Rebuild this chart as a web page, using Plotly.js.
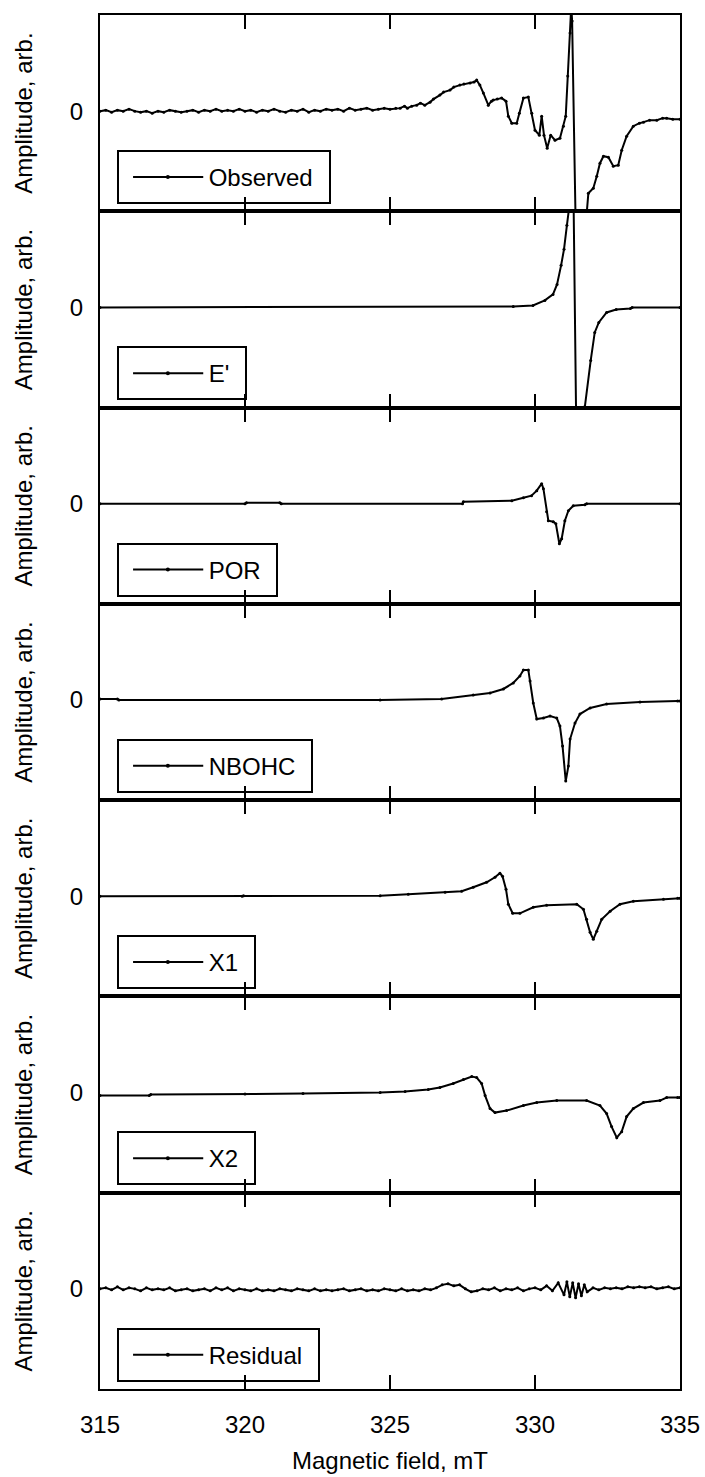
<!DOCTYPE html>
<html>
<head>
<meta charset="utf-8">
<script src="https://cdn.plot.ly/plotly-3.0.1.min.js"></script>
<style>html,body{margin:0;padding:0;background:#fff;}#chart{width:705px;height:1477px;}</style>
</head>
<body>
<div id="chart"></div>
<script>
// ---------------- DATA ----------------
const seriesNames = ["Observed", "E'", "POR", "NBOHC", "X1", "X2", "Residual"];
const xTickValues = [315, 320, 325, 330, 335];
const yTickValues = [0];
const yTickLabels = ["0"];

const field_observed = [315.0,315.2,315.4,315.6,315.8,316.0,316.2,316.4,316.6,316.8,
  317.0,317.2,317.4,317.6,317.8,318.0,318.2,318.4,318.6,318.8,
  319.0,319.2,319.4,319.6,319.8,320.0,320.2,320.4,320.6,320.8,
  321.0,321.2,321.4,321.6,321.8,322.0,322.2,322.4,322.6,322.8,
  323.0,323.2,323.4,323.6,323.8,324.0,324.2,324.4,324.6,
  324.8,325.0,325.2,325.35,325.5,325.6,325.75,325.92,326.05,326.2,326.38,326.5,326.72,326.85,
  327.07,327.2,327.41,327.55,327.76,327.9,327.99,328.1,328.22,328.39,328.5,328.56,328.7,328.85,
  329.0,329.08,329.2,329.37,329.46,329.6,329.77,329.89,330.0,330.15,330.23,330.31,330.42,330.54,
  330.69,330.86,330.98,331.06,331.13,331.21,331.25,331.28,331.4,331.5,331.65,331.78,331.84,
  332.01,332.13,332.24,332.36,332.53,332.7,332.87,332.99,333.16,333.39,333.6,333.74,333.95,
  334.2,334.4,334.54,334.75,335.0];
const amp_observed = [0.00,0.01,-0.01,0.01,0.00,0.02,0.00,-0.01,0.00,-0.02,
  0.00,-0.01,0.01,0.00,-0.01,0.00,0.01,-0.01,0.01,0.00,
  0.02,0.00,0.01,0.00,0.02,0.00,0.01,-0.01,0.01,0.00,
  0.02,0.00,-0.01,0.01,0.00,0.02,-0.01,0.01,0.00,0.02,
  0.01,0.02,0.00,0.03,0.01,0.02,0.03,0.01,0.02,
  0.03,0.02,0.03,0.03,0.05,0.03,0.05,0.06,0.08,0.06,0.09,0.12,0.16,0.19,
  0.21,0.24,0.26,0.27,0.28,0.29,0.31,0.26,0.18,0.06,0.10,0.11,0.12,0.13,
  0.10,-0.05,-0.12,-0.12,-0.02,0.13,0.14,-0.02,-0.19,-0.24,-0.05,-0.24,-0.37,-0.24,
  -0.29,-0.27,-0.15,-0.05,0.35,0.78,1.05,0.90,-1.10,-1.60,-1.30,-1.03,-0.82,
  -0.77,-0.65,-0.52,-0.45,-0.46,-0.55,-0.54,-0.39,-0.25,-0.15,-0.12,-0.11,-0.09,
  -0.09,-0.07,-0.07,-0.08,-0.08];

const field_eprime = [315, 329.25, 329.93, 330.34, 330.62, 330.76, 330.9, 331.0, 331.1, 331.17,
  331.3, 331.48, 331.6, 331.72, 331.92, 332.06, 332.2, 332.47, 332.8, 333.29, 333.35, 335];
const amp_eprime = [0, 0.01, 0.02, 0.07, 0.13, 0.23, 0.42, 0.58, 0.82, 0.98,
  1.8, -2.6, -1.6, -0.99, -0.53, -0.25, -0.15, -0.05, -0.02, -0.01, 0, 0];

const field_por = [315, 320.0, 320.05, 321.2, 321.25, 327.5, 327.53, 329.2, 329.6, 329.88, 330.06,
  330.23, 330.29, 330.4, 330.46, 330.63, 330.72, 330.84, 330.92, 331.03, 331.15, 331.32, 331.72, 331.78, 335];
const amp_por = [0, 0, 0.01, 0.01, 0, 0, 0.02, 0.03, 0.06, 0.08, 0.13,
  0.2, 0.15, -0.08, -0.17, -0.18, -0.2, -0.4, -0.35, -0.17, -0.07, -0.02, -0.01, 0, 0];

const field_nbohc = [315, 315.6, 315.65, 324.66, 326.78, 327.87, 328.45, 328.91, 329.25, 329.48, 329.6,
  329.77, 329.83, 329.94, 330.06, 330.29, 330.52, 330.75, 330.86, 330.95, 331.06, 331.15, 331.21,
  331.38, 331.55, 331.9, 332.47, 333.62, 334.92, 335];
const amp_nbohc = [0.01, 0.01, 0, 0, 0.01, 0.05, 0.07, 0.11, 0.17, 0.24, 0.3,
  0.3, 0.19, -0.03, -0.19, -0.18, -0.16, -0.18, -0.26, -0.46, -0.81, -0.66, -0.39,
  -0.23, -0.14, -0.08, -0.04, -0.02, -0.01, -0.01];

const field_x1 = [315, 319.9, 319.95, 324.66, 325.63, 326.9, 327.47, 327.87, 328.33, 328.62, 328.79,
  328.88, 329.0, 329.08, 329.23, 329.48, 329.94, 330.4, 331.44, 331.67, 331.78, 331.9, 332.01,
  332.13, 332.3, 332.59, 332.93, 333.39, 334.43, 334.92, 335];
const amp_x1 = [0, 0, 0.005, 0.005, 0.02, 0.04, 0.05, 0.09, 0.14, 0.19, 0.23,
  0.2, 0.07, -0.08, -0.17, -0.17, -0.11, -0.09, -0.08, -0.13, -0.23, -0.36, -0.43,
  -0.35, -0.23, -0.15, -0.08, -0.05, -0.03, -0.02, -0.02];

const field_x2 = [315, 316.7, 316.75, 320, 322, 324.66, 325.52, 326.32, 326.72, 327.18, 327.53, 327.82,
  327.99, 328.16, 328.28, 328.45, 328.62, 329.02, 329.6, 330.06, 330.75, 331.78, 332.24, 332.47,
  332.64, 332.82, 332.99, 333.16, 333.39, 333.74, 334.31, 334.54, 334.92, 335];
const amp_x2 = [-0.03, -0.03, -0.02, -0.015, -0.01, 0, 0.01, 0.03, 0.05, 0.09, 0.13, 0.16,
  0.15, 0.09, -0.03, -0.16, -0.2, -0.18, -0.13, -0.1, -0.08, -0.08, -0.13, -0.21,
  -0.34, -0.45, -0.39, -0.24, -0.16, -0.1, -0.08, -0.05, -0.05, -0.05];

const field_residual = [315.0,315.2,315.4,315.6,315.8,316.0,316.2,316.4,316.6,316.8,
  317.0,317.2,317.4,317.6,317.8,318.0,318.2,318.4,318.6,318.8,
  319.0,319.2,319.4,319.6,319.8,320.0,320.2,320.4,320.6,320.8,
  321.0,321.2,321.4,321.6,321.8,322.0,322.2,322.4,322.6,322.8,
  323.0,323.2,323.4,323.6,323.8,324.0,324.2,324.4,324.6,324.8,
  325.0,325.2,325.4,325.6,325.8,326.0,326.2,326.4,326.6,326.8,
  327.0,327.2,327.4,327.6,327.8,328.0,328.2,328.4,328.6,328.8,
  329.0,329.2,329.4,329.6,329.8,330.0,330.2,330.4,330.6,330.8,
  331.0,331.1,331.2,331.3,331.4,331.5,331.6,331.7,331.8,
  332.0,332.2,332.4,332.6,332.8,333.0,333.2,333.4,333.6,333.8,
  334.0,334.2,334.4,334.6,334.8,335.0];
const amp_residual = [0.00,0.01,-0.01,0.02,-0.01,0.01,0.00,-0.02,0.01,-0.01,
  0.00,-0.01,0.01,-0.02,-0.01,0.00,-0.02,-0.01,0.00,-0.02,
  0.01,-0.01,0.01,-0.02,0.00,-0.01,-0.02,0.00,-0.02,-0.01,
  -0.02,0.00,-0.01,-0.02,0.00,-0.01,-0.02,0.00,-0.02,-0.01,
  -0.02,-0.01,0.00,-0.02,-0.01,0.00,-0.02,-0.01,-0.02,0.00,
  -0.01,-0.02,0.00,-0.02,-0.01,-0.02,0.00,-0.01,0.01,0.04,
  0.05,0.03,0.04,0.00,-0.03,-0.02,0.00,-0.01,0.01,-0.02,
  0.00,-0.01,0.01,-0.02,0.00,0.01,-0.01,0.03,-0.02,0.06,
  -0.06,0.07,-0.08,0.06,-0.09,0.05,-0.07,0.04,-0.03,
  0.01,-0.01,0.01,0.00,0.01,0.00,0.02,0.01,0.02,0.01,
  0.02,0.00,0.01,0.02,0.00,0.01];

// ---------------- FIGURE ----------------
const fieldSets = [field_observed, field_eprime, field_por, field_nbohc, field_x1, field_x2, field_residual];
const ampSets = [amp_observed, amp_eprime, amp_por, amp_nbohc, amp_x1, amp_x2, amp_residual];

const FONT = "Liberation Sans, Arial, Helvetica, sans-serif";
const N = seriesNames.length;
const traces = [];
const layout = {
  width: 705, height: 1477,
  margin: {l: 100, r: 25, t: 15, b: 88},
  paper_bgcolor: '#ffffff', plot_bgcolor: '#ffffff',
  font: {family: FONT, size: 24, color: '#000'},
  showlegend: false,
  shapes: [], annotations: []
};

for (let i = 0; i < N; i++) {
  const s = i === 0 ? '' : String(i + 1);
  traces.push({
    type: 'scatter', mode: 'lines+markers', name: seriesNames[i],
    x: fieldSets[i], y: ampSets[i],
    xaxis: 'x' + s, yaxis: 'y' + s,
    line: {color: '#000', width: 2},
    marker: {color: '#000', size: 3},
    showlegend: false, hoverinfo: 'skip'
  });
  const top = 1 - i / N, bot = 1 - (i + 1) / N;
  const last = i === N - 1;
  layout['xaxis' + s] = {
    domain: [0, 1], anchor: 'y' + s, range: [315, 335],
    tickvals: xTickValues, ticks: 'inside', ticklen: 14, tickwidth: 2, tickcolor: '#000',
    showline: true, linewidth: 2, linecolor: '#000', mirror: 'ticks',
    showgrid: false, zeroline: false,
    showticklabels: last, tickfont: {size: 24, family: FONT},
    ticklabelstandoff: 13,
    title: last ? {text: 'Magnetic field, mT', font: {size: 24, family: FONT}, standoff: 15} : {text: ''}
  };
  if (i > 0) layout['xaxis' + s].matches = 'x';
  layout['yaxis' + s] = {
    domain: [bot, top], anchor: 'x' + s, range: [-1.0, 0.96],
    tickvals: yTickValues, ticktext: yTickLabels, ticks: '',
    showline: true, linewidth: 2, linecolor: '#000', mirror: true,
    showgrid: false, zeroline: false,
    tickfont: {size: 24, family: FONT}, ticklabelstandoff: 10,
    title: {text: 'Amplitude, arb.', font: {size: 24, family: FONT}, standoff: 30}
  };
  // legend box (framed label) for this panel
  const xr = 'x' + s + ' domain', yr = 'y' + s + ' domain';
  const ly = 0.175;
  layout.annotations.push({
    xref: xr, yref: yr, x: 0.029, y: ly, xanchor: 'left', yanchor: 'middle',
    text: '\u2003\u2003\u2003 ' + seriesNames[i] + '\u2009', showarrow: false,
    font: {size: 24, family: FONT, color: '#000'},
    bordercolor: '#000', borderwidth: 2, borderpad: 11, height: 28, bgcolor: 'rgba(255,255,255,0)'
  });
  layout.shapes.push({
    type: 'line', xref: xr, yref: yr, x0: 0.057, x1: 0.178, y0: ly, y1: ly,
    line: {color: '#000', width: 2}
  });
  layout.shapes.push({
    type: 'circle', xref: xr, yref: yr, xsizemode: 'pixel', ysizemode: 'pixel',
    xanchor: 0.117, yanchor: ly, x0: -2, x1: 2, y0: -2, y1: 2,
    fillcolor: '#000', line: {color: '#000', width: 0}
  });
}

Plotly.newPlot('chart', traces, layout, {staticPlot: true, displayModeBar: false});
</script>
</body>
</html>
